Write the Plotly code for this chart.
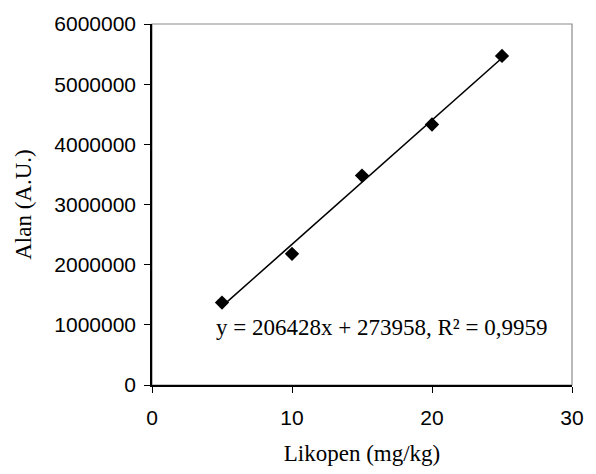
import numpy as np
import plotly.graph_objects as go

# Data
likopen = [5, 10, 15, 20, 25]                      # mg/kg
alan = [1370000, 2180000, 3480000, 4330000, 5470000]  # A.U.
slope = 206428
intercept = 273958
equation_text = "y = 206428x + 273958, R² = 0,9959"
x_ticks = [0, 10, 20, 30]
y_ticks = [0, 1000000, 2000000, 3000000, 4000000, 5000000, 6000000]

fit_x = np.array([min(likopen), max(likopen)], dtype=float)
fit_y = slope * fit_x + intercept

fig = go.Figure()
fig.add_trace(go.Scatter(x=fit_x, y=fit_y, mode="lines",
                         line=dict(color="black", width=1.6),
                         showlegend=False, hoverinfo="skip"))
fig.add_trace(go.Scatter(x=likopen, y=alan, mode="markers",
                         marker=dict(symbol="diamond", size=11, color="black"),
                         showlegend=False))

fig.add_shape(type="rect", xref="paper", yref="paper", x0=0, x1=1, y0=0, y1=1,
              line=dict(color="#8c8c8c", width=1.2), layer="below")

fig.add_annotation(x=4.42, y=960000, xref="x", yref="y", text=equation_text,
                   showarrow=False, xanchor="left", yanchor="middle",
                   font=dict(family="Liberation Serif, Times New Roman, serif", size=23, color="black"))

tick_font = dict(family="Liberation Sans, Arial, sans-serif", size=21, color="black")
title_font = dict(family="Liberation Serif, Times New Roman, serif", size=23, color="black")

fig.update_xaxes(range=[0, 30], tickvals=x_ticks, showgrid=False, zeroline=False,
                 showline=True, linecolor="black", linewidth=1.5,
                 ticks="outside", ticklen=6, tickcolor="black", tickwidth=1.3,
                 tickfont=tick_font, ticklabelstandoff=7,
                 title=dict(text="Likopen (mg/kg)", font=title_font, standoff=17))
fig.update_yaxes(range=[0, 6000000], tickvals=y_ticks, tickformat="d",
                 showgrid=False, zeroline=False,
                 showline=True, linecolor="black", linewidth=1.5,
                 ticks="outside", ticklen=6, tickcolor="black", tickwidth=1.3,
                 tickfont=tick_font, ticklabelstandoff=4,
                 title=dict(text="Alan (A.U.)", font=title_font, standoff=16))

fig.update_layout(width=596, height=474,
                  margin=dict(l=152, r=12, t=17, b=88),
                  paper_bgcolor="white", plot_bgcolor="white")

fig.write_html("out.html")
